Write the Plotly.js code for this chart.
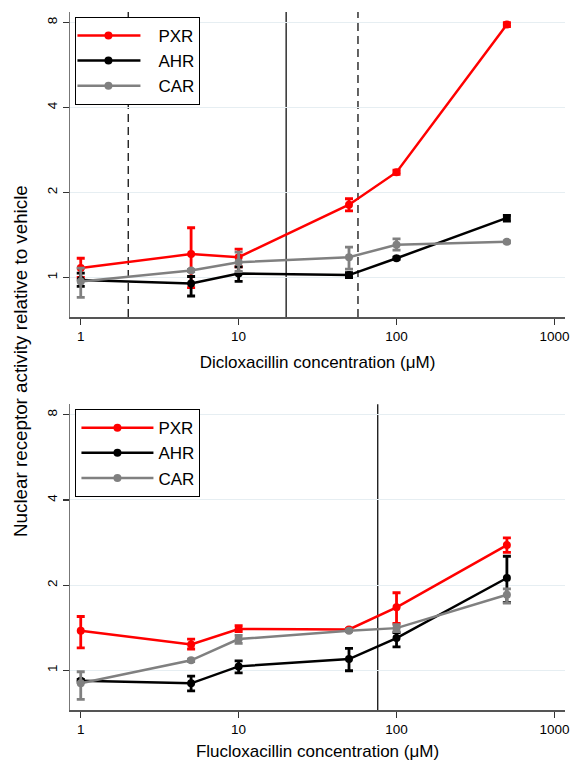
<!DOCTYPE html>
<html>
<head>
<meta charset="utf-8">
<script src="https://cdn.plot.ly/plotly-3.0.1.min.js"></script>
<style>html,body{margin:0;padding:0;background:#fff;}#chart{width:573px;height:761px;}</style>
</head>
<body>
<div id="chart"></div>
<script>
// concentrations (µM)
const conc = [1, 5, 10, 50, 100, 500];
const seriesNames = ['PXR', 'AHR', 'CAR'];
const seriesColors = ['#ff0000', '#000000', '#808080'];

// Dicloxacillin
const dicloPXR = [1.08, 1.21, 1.18, 1.81, 2.36, 7.86];
const dicloPXRhi = [0.09, 0.29, 0.08, 0.09, 0.04, 0.12];
const dicloPXRlo = [0.08, 0.29, 0.09, 0.09, 0.04, 0.12];
const dicloAHR = [0.98, 0.953, 1.033, 1.02, 1.17, 1.625];
const dicloAHRhi = [0.056, 0.055, 0.057, 0.02, 0.01, 0.035];
const dicloAHRlo = [0.05, 0.093, 0.065, 0.02, 0.01, 0.04];
const dicloCAR = [0.968, 1.059, 1.133, 1.18, 1.305, 1.337];
const dicloCARhi = [0.112, 0.01, 0.097, 0.10, 0.065, 0.01];
const dicloCARlo = [0.118, 0.01, 0.083, 0.11, 0.055, 0.01];
const dicloLines = [2, 20, 57];
const dicloDash = ['dash', 'solid', 'dash'];

// Flucloxacillin
const flucloPXR = [1.38, 1.235, 1.40, 1.395, 1.67, 2.77];
const flucloPXRhi = [0.17, 0.055, 0.04, 0.01, 0.21, 0.17];
const flucloPXRlo = [0.18, 0.045, 0.03, 0.01, 0.205, 0.16];
const flucloAHR = [0.919, 0.90, 1.033, 1.096, 1.30, 2.12];
const flucloAHRhi = [0.01, 0.055, 0.047, 0.10, 0.06, 0.41];
const flucloAHRlo = [0.01, 0.054, 0.053, 0.099, 0.09, 0.38];
const flucloCAR = [0.90, 1.085, 1.29, 1.38, 1.41, 1.85];
const flucloCARhi = [0.089, 0.01, 0.04, 0.01, 0.04, 0.09];
const flucloCARlo = [0.11, 0.01, 0.045, 0.01, 0.04, 0.12];
const flucloLines = [76];
const flucloDash = ['solid'];

const yTicks = [1, 2, 4, 8];
const yTickText = ['1', '2', '4', '8'];
const xTicks = [1, 10, 100, 1000];
const xTickText = ['1', '10', '100', '1000'];
const xTitleTop = 'Dicloxacillin concentration (μM)';
const xTitleBottom = 'Flucloxacillin concentration (μM)';
const yTitle = 'Nuclear receptor activity relative to vehicle';

function mk(y, hi, lo, i, xa, ya, lg) {
  return {
    x: conc, y: y, type: 'scatter', mode: 'lines+markers',
    name: seriesNames[i], xaxis: xa, yaxis: ya, legend: lg,
    line: {color: seriesColors[i], width: 2.5},
    marker: {color: seriesColors[i], size: 8},
    error_y: {type: 'data', symmetric: false, array: hi, arrayminus: lo,
      color: seriesColors[i], thickness: 2.8, width: 4}
  };
}

const data = [
  mk(dicloPXR, dicloPXRhi, dicloPXRlo, 0, 'x', 'y', 'legend'),
  mk(dicloAHR, dicloAHRhi, dicloAHRlo, 1, 'x', 'y', 'legend'),
  mk(dicloCAR, dicloCARhi, dicloCARlo, 2, 'x', 'y', 'legend'),
  mk(flucloPXR, flucloPXRhi, flucloPXRlo, 0, 'x2', 'y2', 'legend2'),
  mk(flucloAHR, flucloAHRhi, flucloAHRlo, 1, 'x2', 'y2', 'legend2'),
  mk(flucloCAR, flucloCARhi, flucloCARlo, 2, 'x2', 'y2', 'legend2')
];

const fam = 'Liberation Sans, Arial, sans-serif';

function xaxis(anchor, title) {
  return {
    type: 'log', range: [-0.068, 3.067], anchor: anchor,
    tickvals: xTicks, ticktext: xTickText, ticks: 'outside', ticklen: 6,
    tickcolor: '#333', tickwidth: 1.3, showgrid: false, zeroline: false,
    showline: true, linecolor: '#555', linewidth: 1.5,
    tickfont: {family: fam, size: 13.5, color: '#000'},
    title: {text: title, font: {family: fam, size: 17, color: '#000'}, standoff: 13}
  };
}
function yaxis(anchor, dom) {
  return {
    type: 'log', range: [-0.14, 0.94], anchor: anchor, domain: dom,
    tickvals: yTicks, ticktext: yTickText, ticks: 'outside', ticklen: 6,
    tickcolor: '#333', tickwidth: 1.3, tickangle: -90, ticklabelstandoff: 0,
    showgrid: true, gridcolor: '#e6eef2', gridwidth: 1, zeroline: false,
    showline: true, linecolor: '#777', linewidth: 1.5,
    tickfont: {family: fam, size: 13.5, color: '#000'}
  };
}

const shapes = [];
dicloLines.forEach((v, i) => shapes.push({type: 'line', xref: 'x', yref: 'y domain', x0: v, x1: v, y0: 0, y1: 1,
  line: {color: '#222', width: 1.4, dash: dicloDash[i] === 'dash' ? '8px,5px' : 'solid'}, layer: 'below'}));
flucloLines.forEach((v, i) => shapes.push({type: 'line', xref: 'x2', yref: 'y2 domain', x0: v, x1: v, y0: 0, y1: 1,
  line: {color: '#222', width: 1.4, dash: flucloDash[i] === 'dash' ? '8px,5px' : 'solid'}, layer: 'below'}));

const legendStyle = (y) => ({
  x: 0.011, y: y, xanchor: 'left', yanchor: 'top',
  bordercolor: '#000', borderwidth: 1, bgcolor: '#fff',
  font: {family: fam, size: 17, color: '#000'},
  itemwidth: 72, tracegroupgap: 0
});

const layout = {
  width: 573, height: 761,
  margin: {l: 70, r: 8, t: 12, b: 51},
  paper_bgcolor: '#fff', plot_bgcolor: '#fff',
  font: {family: fam, color: '#000'},
  showlegend: true,
  xaxis: xaxis('y', xTitleTop),
  yaxis: yaxis('x', [0.563, 1]),
  xaxis2: xaxis('y2', xTitleBottom),
  yaxis2: yaxis('x2', [0, 0.438]),
  legend: legendStyle(0.993),
  legend2: legendStyle(0.431),
  shapes: shapes,
  annotations: [{
    text: yTitle, xref: 'paper', yref: 'paper', x: -0.101, y: 0.5,
    xanchor: 'center', yanchor: 'middle', textangle: -90, showarrow: false,
    font: {family: fam, size: 18.8, color: '#000'}
  }]
};

Plotly.newPlot('chart', data, layout, {displayModeBar: false, staticPlot: true}).then(gd => {
  // lengthen legend line symbols to match the reference legend keys
  gd.querySelectorAll('.legend .traces').forEach(tr => {
    tr.querySelectorAll('.legendlines path').forEach(p => p.setAttribute('d', 'M1,0h63'));
    tr.querySelectorAll('.legendpoints path').forEach(p => {
      p.setAttribute('transform', 'translate(32,0)');
    });
  });
});
</script>
</body>
</html>
